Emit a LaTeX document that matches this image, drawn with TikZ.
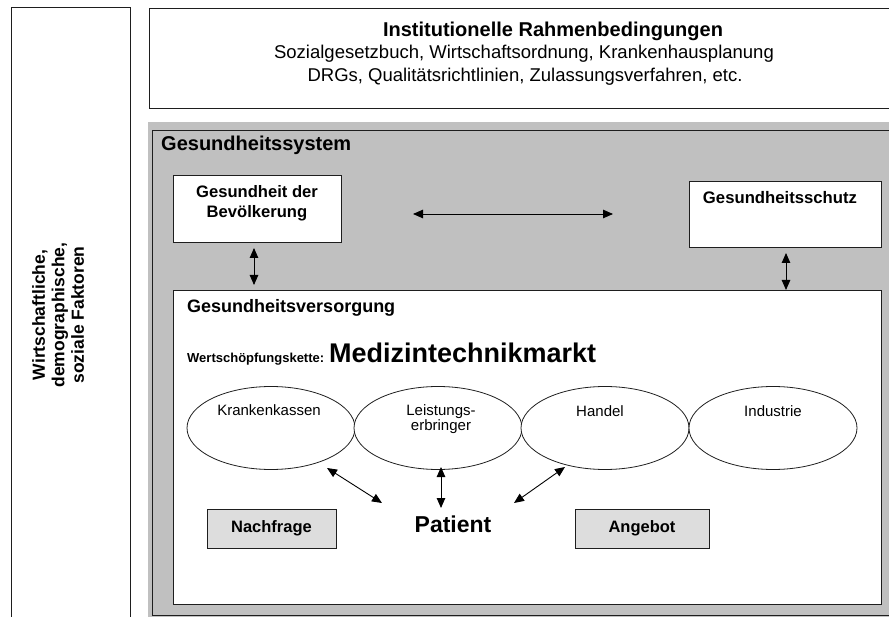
\documentclass[tikz,border=0pt]{standalone}
\usepackage{fontspec}
\setmainfont{Liberation Sans}
\usetikzlibrary{arrows.meta,shapes.geometric}
\definecolor{sysgray}{RGB}{192,192,192}
\definecolor{boxgray}{RGB}{221,221,221}
\definecolor{edge}{RGB}{30,30,30}
\tikzset{
  frame/.style={draw=edge, line width=1pt, inner sep=0pt, anchor=north west},
  whitebox/.style={frame, fill=white},
  greybox/.style={frame, fill=boxgray},
  txt/.style={inner sep=0pt, align=center},
  dbl/.style={{Triangle[length=10pt,width=8.5pt]}-{Triangle[length=10pt,width=8.5pt]}, line width=0.9pt},
  ell/.style={draw=edge, ellipse, minimum width=168pt, minimum height=83pt, inner sep=0pt, line width=0.8pt, fill=white}
}
\newcommand{\fsz}[1]{\fontsize{#1}{1.18\dimexpr #1pt\relax}\selectfont}
\begin{document}
\begin{tikzpicture}[x=1pt,y=-1pt]
\useasboundingbox (0,0) rectangle (889,617);
% left box
\node[frame, minimum width=119pt, minimum height=640pt] (side) at (11,7) {};
\node[txt, rotate=90, font=\fontsize{17.5}{19.5}\selectfont\bfseries] (sidet) at (58,315) {Wirtschaftliche,\\demographische,\\soziale Faktoren};
% top box
\node[frame, minimum width=760pt, minimum height=100pt] (inst) at (149,8) {};
\node[txt, font=\fsz{20}\bfseries] (instt) at (553,31) {Institutionelle Rahmenbedingungen};
\node[txt, font=\fsz{18.5}] (inst1) at (524,54) {Sozialgesetzbuch, Wirtschaftsordnung, Krankenhausplanung};
\node[txt, font=\fsz{18.5}] (inst2) at (525,77) {DRGs, Qualitätsrichtlinien, Zulassungsverfahren, etc.};
% gray system area
\fill[sysgray] (148,122) rectangle (900,630);
\node[frame, minimum width=760pt, minimum height=485pt] (sys) at (152,130) {};
\node[txt, anchor=west, font=\fsz{20}\bfseries] (syst) at (161,145) {Gesundheitssystem};
% upper boxes
\node[whitebox, minimum width=168pt, minimum height=67pt] (gdb) at (173,175) {};
\node[txt, font=\fontsize{16.6}{20}\selectfont\bfseries] (gdbt) at (257,203) {Gesundheit der\\Bevölkerung};
\node[whitebox, minimum width=192pt, minimum height=66pt] (gs) at (689,181) {};
\node[txt, font=\fsz{16.7}\bfseries] (gst) at (780,198) {Gesundheitsschutz};
% inner box
\node[whitebox, minimum width=708pt, minimum height=314pt] (gv) at (173,290) {};
\node[txt, anchor=west, font=\fsz{18}\bfseries] (gvt) at (187,308) {Gesundheitsversorgung};
\node[txt, anchor=base west] (wk) at (187,363) {{\fsz{13}\bfseries Wertschöpfungskette: }{\fsz{27}\bfseries Medizintechnikmarkt}};
% ellipses
\node[ell] (kk) at (271,428) {};
\node[ell] (le) at (438,428) {};
\node[ell] (ha) at (605,428) {};
\node[ell] (in) at (773,428) {};
\node[txt, font=\fsz{15}] (kkt) at (269,410) {Krankenkassen};
\node[txt, font=\fontsize{15}{15.5}\selectfont] (let) at (441,419) {Leistungs-\\erbringer};
\node[txt, font=\fsz{15}] (hat) at (600,411) {Handel};
\node[txt, font=\fsz{15}] (int) at (773,411) {Industrie};
% lower row
\node[greybox, minimum width=129pt, minimum height=39pt] (nf) at (207,509) {};
\node[txt, font=\fsz{16.5}\bfseries] (nft) at (271.5,528) {Nachfrage};
\node[greybox, minimum width=134pt, minimum height=39pt] (ag) at (575,509) {};
\node[txt, font=\fsz{16.5}\bfseries] (agt) at (642,528) {Angebot};
\node[txt, font=\fsz{23}\bfseries] (pat) at (453,524) {Patient};
% arrow end points
\coordinate (h1) at (413,214); \coordinate (h2) at (613,214);
\coordinate (v1) at (254,248); \coordinate (v2) at (254,285);
\coordinate (r1) at (786,253); \coordinate (r2) at (786,290);
\coordinate (d1) at (327,468); \coordinate (d2) at (382,503);
\coordinate (m1) at (441,467); \coordinate (m2) at (441,508);
\coordinate (e1) at (565,467); \coordinate (e2) at (514,503);
\draw[dbl] (h1) -- (h2);
\draw[dbl] (v1) -- (v2);
\draw[dbl] (r1) -- (r2);
\draw[dbl] (d1) -- (d2);
\draw[dbl] (m1) -- (m2);
\draw[dbl] (e1) -- (e2);
\end{tikzpicture}
\end{document}
